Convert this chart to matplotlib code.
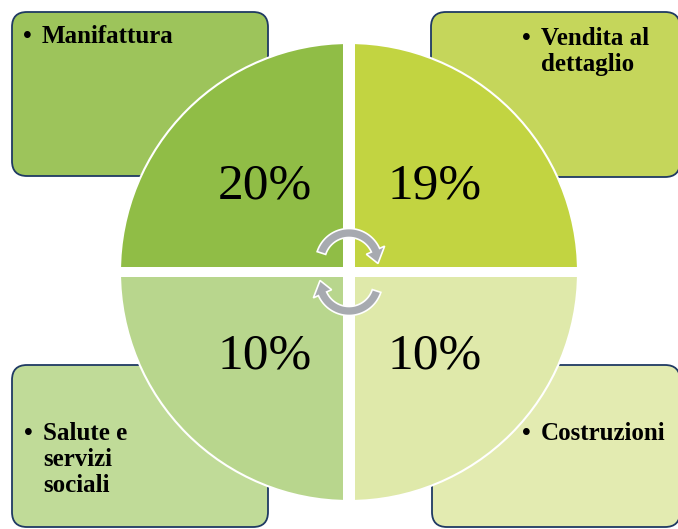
import matplotlib.pyplot as plt
import numpy as np
from matplotlib.patches import FancyBboxPatch, Wedge, Circle, Rectangle, Polygon

# data
sectors = ['Manifattura', 'Vendita al\ndettaglio', 'Salute e\nservizi\nsociali', 'Costruzioni']
shares = [20, 19, 10, 10]
box_colors = ['#9dc45b', '#c5d65b', '#c0db98', '#e3ebb1']
quad_colors = ['#90bd46', '#c2d441', '#b8d68d', '#dfe9aa']

W, H = 678, 529
fig = plt.figure(figsize=(W / 100, H / 100), dpi=100)
ax = fig.add_axes([0, 0, 1, 1])
ax.set_xlim(0, W)
ax.set_ylim(H, 0)
ax.axis('off')

serif = 'Liberation Serif'

# corner boxes (left, top, right, bottom)
boxes = [(12, 12, 268, 176), (431, 12, 680, 177), (12, 365, 268, 527), (432, 365, 680, 527)]
for (x0, y0, x1, y1), c in zip(boxes, box_colors):
    p = FancyBboxPatch((x0 + 15, y0 + 15), x1 - x0 - 30, y1 - y0 - 30,
                       boxstyle='round,pad=15', fc=c, ec='#1f3a63', lw=1.3)
    ax.add_patch(p)

# circle split in four quadrants
cx, cy, R = 349, 272, 229
angles = [(90, 180), (0, 90), (180, 270), (270, 360)]
for (a0, a1), c in zip(angles, quad_colors):
    # y axis inverted -> mirror angles
    ax.add_patch(Wedge((cx, cy), R, 360 - a1, 360 - a0, fc=c, ec='white', lw=1.5))
clip = Circle((cx, cy), R + 2, transform=ax.transData)
vbar = Rectangle((cx - 6, cy - R - 3), 12, 2 * R + 6, fc='white', ec='none')
hbar = Rectangle((cx - R - 3, cy - 5), 2 * R + 6, 10, fc='white', ec='none')
for b in (vbar, hbar):
    ax.add_patch(b)
    b.set_clip_path(clip)

# percent labels
pct_pos = [(265, 186), (435, 186), (265, 356), (435, 356)]
for (x, y), v in zip(pct_pos, shares):
    ax.text(x, y, f'{v}%', fontsize=37, family=serif, ha='center', va='center', color='black')


# circular arrows
def arc_arrow(ccx, ccy, r, w, t0, t1, tip_t, hw):
    pts = []
    for t in np.linspace(np.radians(t0), np.radians(t1), 40):
        pts.append((ccx + (r + w / 2) * np.cos(t), ccy - (r + w / 2) * np.sin(t)))
    tb = np.radians(t1)
    tt = np.radians(tip_t)
    pts.append((ccx + (r + hw) * np.cos(tb), ccy - (r + hw) * np.sin(tb)))
    pts.append((ccx + r * np.cos(tt), ccy - r * np.sin(tt)))
    pts.append((ccx + (r - hw) * np.cos(tb), ccy - (r - hw) * np.sin(tb)))
    for t in np.linspace(np.radians(t1), np.radians(t0), 40):
        pts.append((ccx + (r - w / 2) * np.cos(t), ccy - (r - w / 2) * np.sin(t)))
    ax.add_patch(Polygon(pts, closed=True, fc='#a7aab0', ec='white', lw=1.2, joinstyle='miter'))


arc_arrow(349, 262, 29, 9, 162, 24, -3, 10)
arc_arrow(349, 282, 29, 9, 342, 204, 177, 10)

# sector labels
lab_pos = [(42, 43), (541, 45), (43, 440), (541, 440)]
for (x, y), lab in zip(lab_pos, sectors):
    ax.text(x - 19, y, '•', fontsize=18, family=serif, fontweight='bold', ha='left', va='baseline')
    for i, line in enumerate(lab.split('\n')):
        ax.text(x, y + i * 26, line, fontsize=18, family=serif, fontweight='bold',
                ha='left', va='baseline', color='black')

fig.savefig('out.png', dpi=100)
